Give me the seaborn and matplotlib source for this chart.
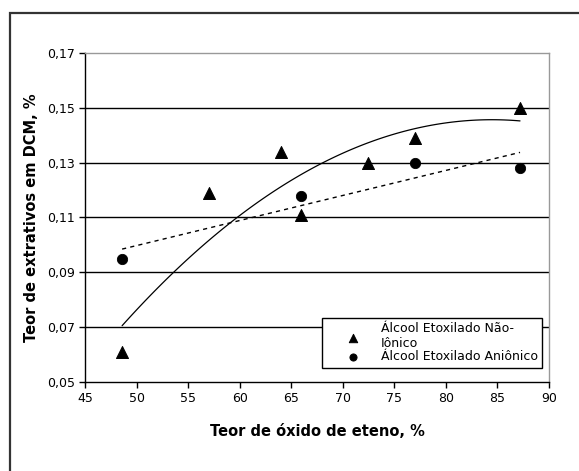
import numpy as np
import pandas as pd
import seaborn as sns
import matplotlib
matplotlib.use("Agg")
import matplotlib.pyplot as plt
from matplotlib.patches import Rectangle
from matplotlib.ticker import FuncFormatter

# data
eo_nonionic = [48.6, 57.0, 64.0, 66.0, 72.5, 77.0, 87.2]
dcm_nonionic = [0.061, 0.119, 0.134, 0.111, 0.130, 0.139, 0.150]
eo_anionic = [48.6, 66.0, 77.0, 87.2]
dcm_anionic = [0.095, 0.118, 0.130, 0.128]
label_nonionic = "Álcool Etoxilado Não-\nIônico"
label_anionic = "Álcool Etoxilado Aniônico"

sns.set_style("white")
plt.rcParams['font.family'] = ['DejaVu Sans']
plt.rcParams['text.color'] = 'black'
plt.rcParams['axes.labelcolor'] = 'black'
plt.rcParams['xtick.color'] = 'black'
plt.rcParams['ytick.color'] = 'black'

fig = plt.figure(figsize=(5.79, 4.71), dpi=100)
ax = fig.add_axes([0.1468, 0.189, 0.8012, 0.6985])

# outer frame of the chart
fig.patches.append(Rectangle((10 / 579, -0.05), 1.1, 1 - 13 / 471 + 0.05,
                             transform=fig.transFigure, fill=False,
                             edgecolor='#333333', lw=1.6, clip_on=False))

# trend lines (quadratic for non-ionic, linear for anionic)
c2 = np.polyfit(eo_nonionic, dcm_nonionic, 2)
xs = np.linspace(min(eo_nonionic), max(eo_nonionic), 100)
sns.lineplot(x=xs, y=np.polyval(c2, xs), ax=ax, color='black', lw=0.9)
c1 = np.polyfit(eo_anionic, dcm_anionic, 1)
xs2 = np.linspace(min(eo_anionic), max(eo_anionic), 100)
sns.lineplot(x=xs2, y=np.polyval(c1, xs2), ax=ax, color='black', lw=1.0,
             linestyle=(0, (3, 3)))

sns.scatterplot(x=eo_nonionic, y=dcm_nonionic, ax=ax, marker='^', s=75,
                color='black', edgecolor='black', label=label_nonionic, zorder=5)
sns.scatterplot(x=eo_anionic, y=dcm_anionic, ax=ax, marker='o', s=55,
                color='black', edgecolor='black', label=label_anionic, zorder=5)

ax.set_xlim(45, 90)
ax.set_ylim(0.05, 0.17)
ax.set_xticks(range(45, 91, 5))
ax.set_yticks([0.05, 0.07, 0.09, 0.11, 0.13, 0.15, 0.17])
ax.yaxis.set_major_formatter(FuncFormatter(lambda v, p: f"{v:.2f}".replace('.', ',')))
for yv in [0.07, 0.09, 0.11, 0.13, 0.15]:
    ax.axhline(yv, color='black', lw=1.0, zorder=1)

for side in ['top', 'right']:
    ax.spines[side].set_color('#999999')
    ax.spines[side].set_linewidth(1.0)
for side in ['left', 'bottom']:
    ax.spines[side].set_color('black')
    ax.spines[side].set_linewidth(1.0)

ax.tick_params(axis='both', direction='out', length=4, width=1, color='black',
               labelsize=9, bottom=True, left=True, pad=3)
ax.set_xlabel("Teor de óxido de eteno, %", fontsize=10.5, fontweight='bold', labelpad=14)
ax.set_ylabel("Teor de extrativos em DCM, %", fontsize=10.5, fontweight='bold', labelpad=6)

leg = ax.legend(loc='lower right', bbox_to_anchor=(0.985, 0.044), fontsize=9,
                frameon=True, fancybox=False, edgecolor='black', framealpha=1,
                handletextpad=0.1, borderpad=0.35, labelspacing=0.0,
                handlelength=4.2, borderaxespad=0, markerscale=0.7)
leg.get_frame().set_linewidth(1.0)

fig.savefig("out.png", dpi=100, facecolor='white')
